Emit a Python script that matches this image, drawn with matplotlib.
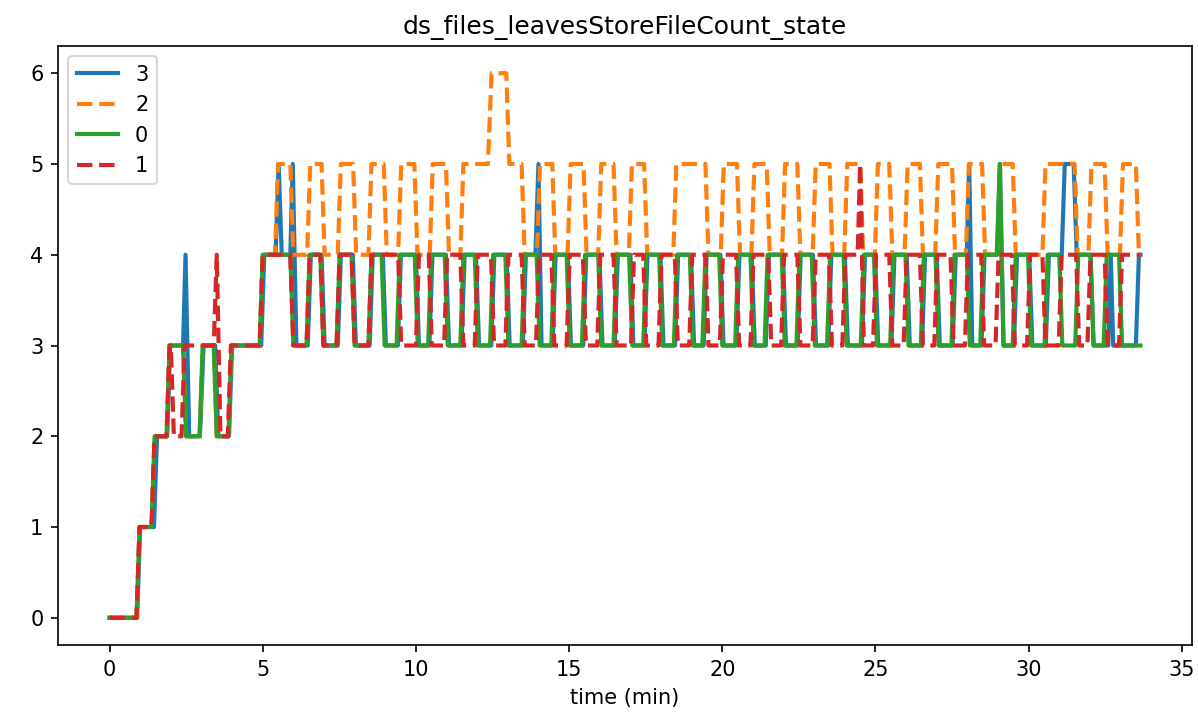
import numpy as np
from matplotlib import pyplot as plt

# -----------------------------------------------------------#
# Data: (time in min, state) vertices
# -----------------------------------------------------------#
title = "ds_files_leavesStoreFileCount_state"
labels = ["3", "2", "0", "1"]

s3 = [(0, 0), (0.90, 0), (1.00, 1), (1.45, 1), (1.55, 2), (1.88, 2), (1.98, 3), (2.40, 3), (2.48, 4), (2.60, 2),
      (2.95, 2), (3.07, 3), (3.45, 3), (3.55, 2), (3.90, 2), (4.00, 3), (4.95, 3), (5.05, 4), (5.42, 4), (5.52, 5),
      (5.62, 4), (5.90, 4), (5.98, 5), (6.10, 3), (6.47, 3), (6.57, 4), (6.92, 4), (7.02, 3), (7.45, 3), (7.55, 4),
      (7.94, 4), (8.04, 3), (8.49, 3), (8.59, 4), (8.92, 4), (9.02, 3), (9.41, 3), (9.51, 4), (10.00, 4), (10.10, 3),
      (10.44, 3), (10.54, 4), (10.98, 4), (11.08, 3), (11.49, 3), (11.59, 4), (11.96, 4), (12.06, 3), (12.46, 3),
      (12.56, 4), (12.96, 4), (13.06, 3), (13.49, 3), (13.59, 4), (13.90, 4), (14.00, 5), (14.10, 3), (14.46, 3),
      (14.56, 4), (14.96, 4), (15.06, 3), (15.46, 3), (15.56, 4), (15.99, 4), (16.09, 3), (16.49, 3), (16.59, 4),
      (17.00, 4), (17.10, 3), (17.46, 3), (17.56, 4), (17.98, 4), (18.08, 3), (18.46, 3), (18.56, 4), (18.98, 4),
      (19.08, 3), (19.39, 3), (19.49, 4), (19.94, 4), (20.04, 3), (20.46, 3), (20.56, 4), (20.96, 4), (21.06, 3),
      (21.42, 3), (21.52, 4), (21.98, 4), (22.08, 3), (22.46, 3), (22.56, 4), (22.96, 4), (23.06, 3), (23.46, 3),
      (23.56, 4), (24.00, 4), (24.10, 3), (24.56, 3), (24.66, 4), (24.99, 4), (25.09, 3), (25.52, 3), (25.62, 4),
      (26.02, 4), (26.12, 3), (26.52, 3), (26.62, 4), (27.00, 4), (27.10, 3), (27.52, 3), (27.62, 4), (27.98, 4),
      (28.06, 5), (28.16, 3), (28.46, 3), (28.56, 4), (28.98, 4), (29.06, 5), (29.18, 3), (29.52, 3), (29.62, 4),
      (30.02, 4), (30.12, 3), (30.56, 3), (30.66, 4), (31.08, 4), (31.18, 5), (31.47, 5), (31.57, 4), (32.02, 4),
      (32.12, 3), (32.60, 3), (32.68, 4), (32.76, 3), (33.50, 3), (33.60, 4), (33.65, 4)]

s2 = [(0, 0), (0.88, 0), (0.98, 1), (1.37, 1), (1.47, 2), (1.86, 2), (1.96, 3), (2.40, 3), (2.50, 2), (2.94, 2),
      (3.04, 3), (3.40, 3), (3.50, 2), (3.88, 2), (3.98, 3), (4.90, 3), (5.00, 4), (5.40, 4), (5.50, 5), (5.90, 5),
      (6.00, 4), (6.45, 4), (6.55, 5), (6.92, 5), (7.02, 4), (7.45, 4), (7.55, 5), (7.95, 5), (8.05, 4), (8.45, 4),
      (8.55, 5), (8.95, 5), (9.05, 4), (9.42, 4), (9.52, 5), (9.95, 5), (10.05, 4), (10.45, 4), (10.55, 5),
      (10.98, 5), (11.08, 4), (11.45, 4), (11.55, 5), (12.35, 5), (12.47, 6), (12.95, 6), (13.05, 5), (13.45, 5),
      (13.55, 4), (13.95, 4), (14.05, 5), (14.45, 5), (14.55, 4), (14.95, 4), (15.05, 5), (15.47, 5), (15.57, 4),
      (15.95, 4), (16.05, 5), (16.45, 5), (16.55, 4), (16.95, 4), (17.05, 5), (17.45, 5), (17.55, 4), (18.40, 4),
      (18.50, 5), (19.45, 5), (19.55, 4), (19.95, 4), (20.05, 5), (20.48, 5), (20.58, 4), (20.95, 4), (21.05, 5),
      (21.45, 5), (21.55, 4), (21.95, 4), (22.05, 5), (22.45, 5), (22.55, 4), (22.95, 4), (23.05, 5), (23.50, 5),
      (23.60, 4), (23.98, 4), (24.08, 5), (24.50, 5), (24.60, 4), (24.98, 4), (25.08, 5), (25.45, 5), (25.55, 4),
      (25.95, 4), (26.05, 5), (26.45, 5), (26.55, 4), (26.95, 4), (27.05, 5), (27.50, 5), (27.60, 4), (27.95, 4),
      (28.05, 5), (28.48, 5), (28.58, 4), (28.98, 4), (29.08, 5), (29.48, 5), (29.58, 4), (30.45, 4), (30.55, 5),
      (31.50, 5), (31.60, 4), (31.95, 4), (32.05, 5), (32.48, 5), (32.58, 4), (32.98, 4), (33.08, 5), (33.50, 5),
      (33.60, 4), (33.65, 4)]

s0 = [(0, 0), (0.88, 0), (0.98, 1), (1.37, 1), (1.47, 2), (1.86, 2), (1.96, 3), (2.40, 3), (2.50, 2), (2.94, 2),
      (3.04, 3), (3.40, 3), (3.50, 2), (3.88, 2), (3.98, 3), (4.90, 3), (5.00, 4), (5.90, 4), (6.00, 3), (6.43, 3),
      (6.53, 4), (6.88, 4), (6.98, 3), (7.41, 3), (7.51, 4), (7.90, 4), (8.00, 3), (8.45, 3), (8.55, 4), (8.88, 4),
      (8.98, 3), (9.37, 3), (9.47, 4), (9.96, 4), (10.06, 3), (10.40, 3), (10.50, 4), (10.94, 4), (11.04, 3),
      (11.45, 3), (11.55, 4), (11.92, 4), (12.02, 3), (12.42, 3), (12.52, 4), (12.92, 4), (13.02, 3), (13.45, 3),
      (13.55, 4), (13.94, 4), (14.04, 3), (14.42, 3), (14.52, 4), (14.92, 4), (15.02, 3), (15.42, 3), (15.52, 4),
      (15.95, 4), (16.05, 3), (16.45, 3), (16.55, 4), (16.96, 4), (17.06, 3), (17.42, 3), (17.52, 4), (17.94, 4),
      (18.04, 3), (18.42, 3), (18.52, 4), (18.94, 4), (19.04, 3), (19.35, 3), (19.45, 4), (19.90, 4), (20.00, 3),
      (20.42, 3), (20.52, 4), (20.92, 4), (21.02, 3), (21.38, 3), (21.48, 4), (21.94, 4), (22.04, 3), (22.42, 3),
      (22.52, 4), (22.92, 4), (23.02, 3), (23.42, 3), (23.52, 4), (23.96, 4), (24.06, 3), (24.52, 3), (24.62, 4),
      (24.95, 4), (25.05, 3), (25.48, 3), (25.58, 4), (25.98, 4), (26.08, 3), (26.48, 3), (26.58, 4), (26.96, 4),
      (27.06, 3), (27.48, 3), (27.58, 4), (27.98, 4), (28.08, 3), (28.42, 3), (28.52, 4), (28.96, 4), (29.06, 5),
      (29.18, 3), (29.48, 3), (29.58, 4), (29.98, 4), (30.08, 3), (30.52, 3), (30.62, 4), (31.00, 4), (31.10, 3),
      (31.52, 3), (31.62, 4), (32.02, 4), (32.12, 3), (32.45, 3), (32.55, 4), (32.95, 4), (33.05, 3), (33.65, 3)]

s1 = [(0, 0), (0.88, 0), (0.98, 1), (1.37, 1), (1.47, 2), (1.86, 2), (1.96, 3), (2.00, 3), (2.10, 2), (2.35, 2),
      (2.45, 3), (3.40, 3), (3.50, 4), (3.62, 2), (3.86, 2), (3.96, 3), (4.90, 3), (5.00, 4), (5.90, 4), (6.00, 3),
      (6.43, 3), (6.53, 4), (6.88, 4), (6.98, 3), (7.41, 3), (7.51, 4), (7.90, 4), (8.00, 3), (8.45, 3), (8.55, 4),
      (9.42, 4), (9.52, 3), (10.00, 3), (10.10, 4), (10.42, 4), (10.52, 3), (10.92, 3), (11.02, 4), (11.45, 4),
      (11.55, 3), (11.92, 3), (12.02, 4), (12.45, 4), (12.55, 3), (12.92, 3), (13.02, 4), (13.45, 4), (13.55, 3),
      (13.92, 3), (14.02, 4), (14.42, 4), (14.52, 3), (14.92, 3), (15.02, 4), (15.45, 4), (15.55, 3), (15.92, 3),
      (16.02, 4), (16.45, 4), (16.55, 3), (17.02, 3), (17.12, 4), (17.42, 4), (17.52, 3), (17.92, 3), (18.02, 4),
      (18.45, 4), (18.55, 3), (18.92, 3), (19.02, 4), (19.45, 4), (19.55, 3), (19.92, 3), (20.02, 4), (20.45, 4),
      (20.55, 3), (20.92, 3), (21.02, 4), (21.50, 4), (21.60, 3), (21.92, 3), (22.02, 4), (22.45, 4), (22.55, 3),
      (22.95, 3), (23.05, 4), (23.48, 4), (23.58, 3), (23.92, 3), (24.02, 4), (24.42, 4), (24.50, 5), (24.62, 3),
      (24.92, 3), (25.02, 4), (25.45, 4), (25.55, 3), (25.92, 3), (26.02, 4), (26.45, 4), (26.55, 3), (26.92, 3),
      (27.02, 4), (27.45, 4), (27.55, 3), (27.92, 3), (28.02, 4), (28.45, 4), (28.55, 3), (28.92, 3), (29.02, 4),
      (29.45, 4), (29.55, 3), (29.95, 3), (30.05, 4), (30.45, 4), (30.55, 3), (30.98, 3), (31.08, 4), (31.55, 4),
      (31.65, 3), (31.92, 3), (32.02, 4), (32.48, 4), (32.58, 3), (32.95, 3), (33.05, 4), (33.65, 4)]

series = [s3, s2, s0, s1]
colors = ["tab:blue", "tab:orange", "tab:green", "tab:red"]
styles = ["-", "--", "-", "--"]

# -----------------------------------------------------------#
# Plot
# -----------------------------------------------------------#
W, H = 1198, 721
fig = plt.figure(figsize=(W / 150, H / 150), dpi=150)
ax = fig.add_axes([58 / W, (H - 645) / H, (1192 - 58) / W, (645 - 46) / H])

for s, lab, c, ls in zip(series, labels, colors, styles):
    arr = np.array(s)
    ax.plot(arr[:, 0], arr[:, 1], ls, color=c, label=lab, linewidth=2)

ax.set_title(title)
ax.set_xlabel("time (min)")
ax.legend(loc="upper left")

fig.savefig("out.png", dpi=150)
